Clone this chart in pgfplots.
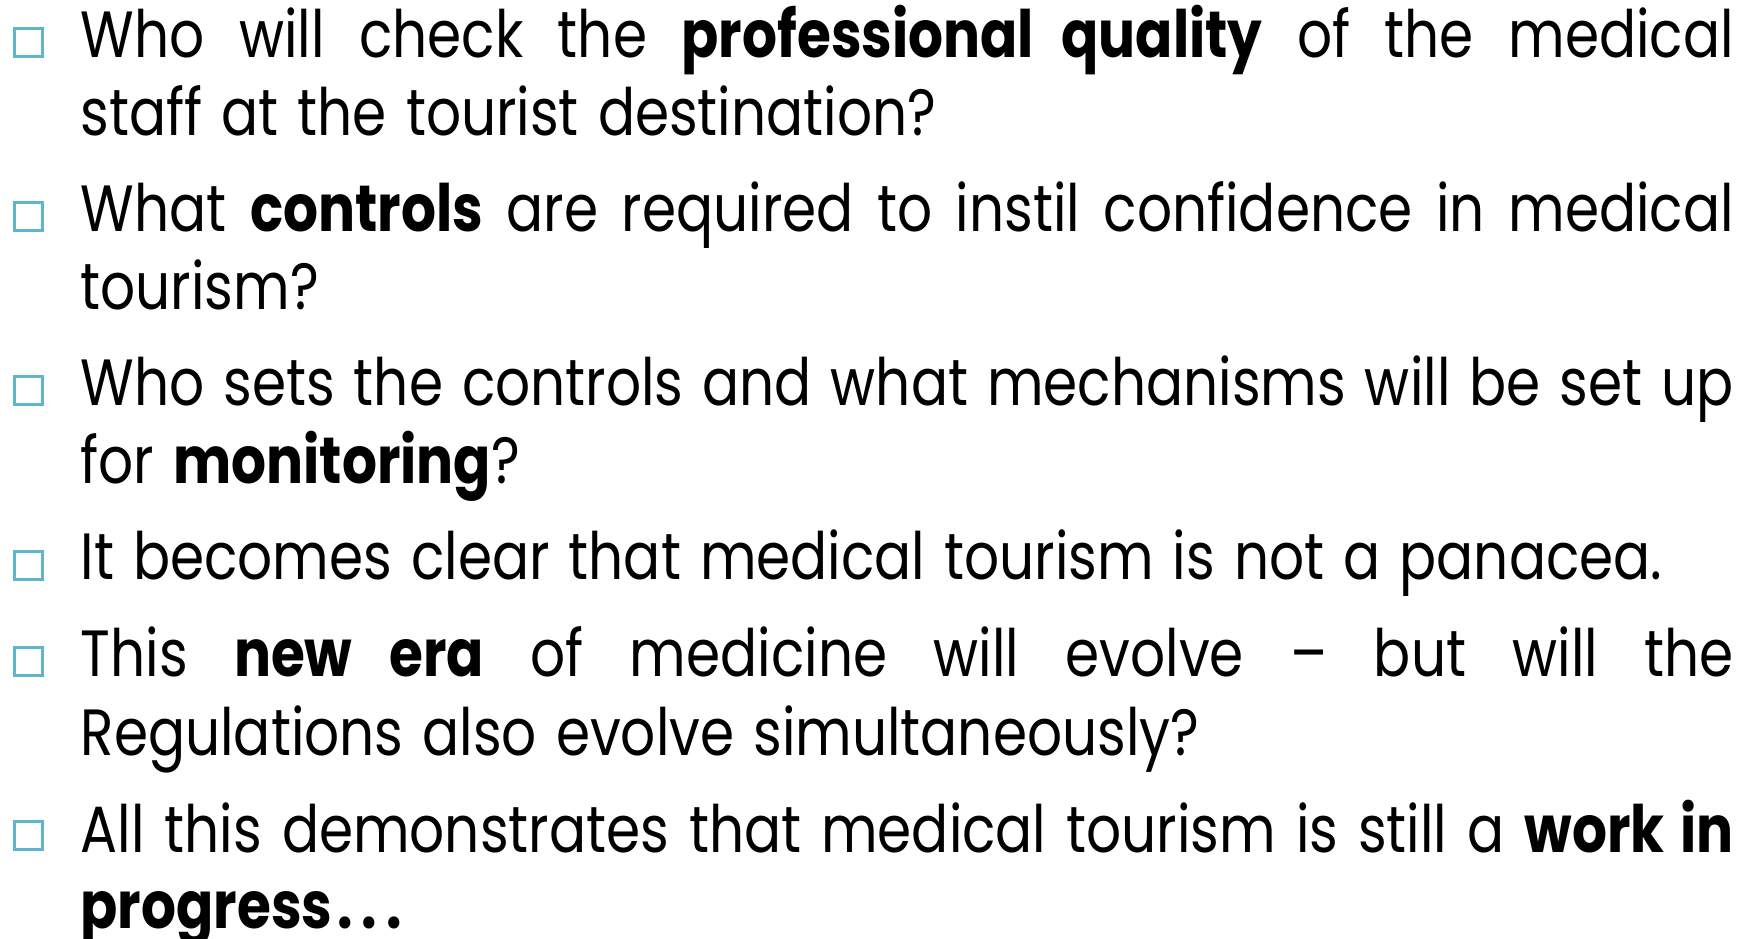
\documentclass[border=0pt]{standalone}
\usepackage{pgfplots}
\pgfplotsset{compat=1.18}
\usepackage{fontspec}
\setmainfont{Poppins}[FakeStretch=0.84, WordSpace=1.3]
\definecolor{bulletblue}{HTML}{5EB6CE}

\newcommand{\fullline}[1]{\makebox[16.53cm][s]{#1}}

\begin{document}
\begin{tikzpicture}
\useasboundingbox (0,0) rectangle (17.53cm,9.39cm);
\begin{axis}[
    hide axis,
    scale only axis,
    width=17.53cm,
    height=9.39cm,
    xmin=0, xmax=1753,
    ymin=0, ymax=939,
    y dir=reverse,
    clip=false,
]
% bullet squares
\addplot[only marks, mark=square, mark size=3.95pt, line width=0.9pt, color=bulletblue]
    coordinates {(28.5,42.5) (28.5,216.5) (28.5,390.5) (28.5,565.5) (28.5,661.5) (28.5,835.5)};

\begin{scope}[every node/.style={anchor=base west, inner sep=0pt, font=\fontsize{18.6pt}{22pt}\selectfont}]
\node at (axis cs:80,58)  {\fullline{Who will check the \textbf{professional quality} of the medical}};
\node at (axis cs:80,136) {staff at the tourist destination?};
\node at (axis cs:80,232) {\fullline{What \textbf{controls} are required to instil confidence in medical}};
\node at (axis cs:80,310) {tourism?};
\node at (axis cs:80,406) {\fullline{Who sets the controls and what mechanisms will be set up}};
\node at (axis cs:80,484) {for \textbf{monitoring}?};
\node at (axis cs:80,580) {It becomes clear that medical tourism is not a panacea.};
\node at (axis cs:80,677) {\fullline{This \textbf{new era} of medicine will evolve – but will the}};
\node at (axis cs:80,755) {Regulations also evolve simultaneously?};
\node at (axis cs:80,852) {\fullline{All this demonstrates that medical tourism is still a \textbf{work in}}};
\node at (axis cs:80,928) {\textbf{progress\kern1.5pt.\kern2.5pt.\kern2.5pt.}};
\end{scope}
\end{axis}
\end{tikzpicture}
\end{document}
